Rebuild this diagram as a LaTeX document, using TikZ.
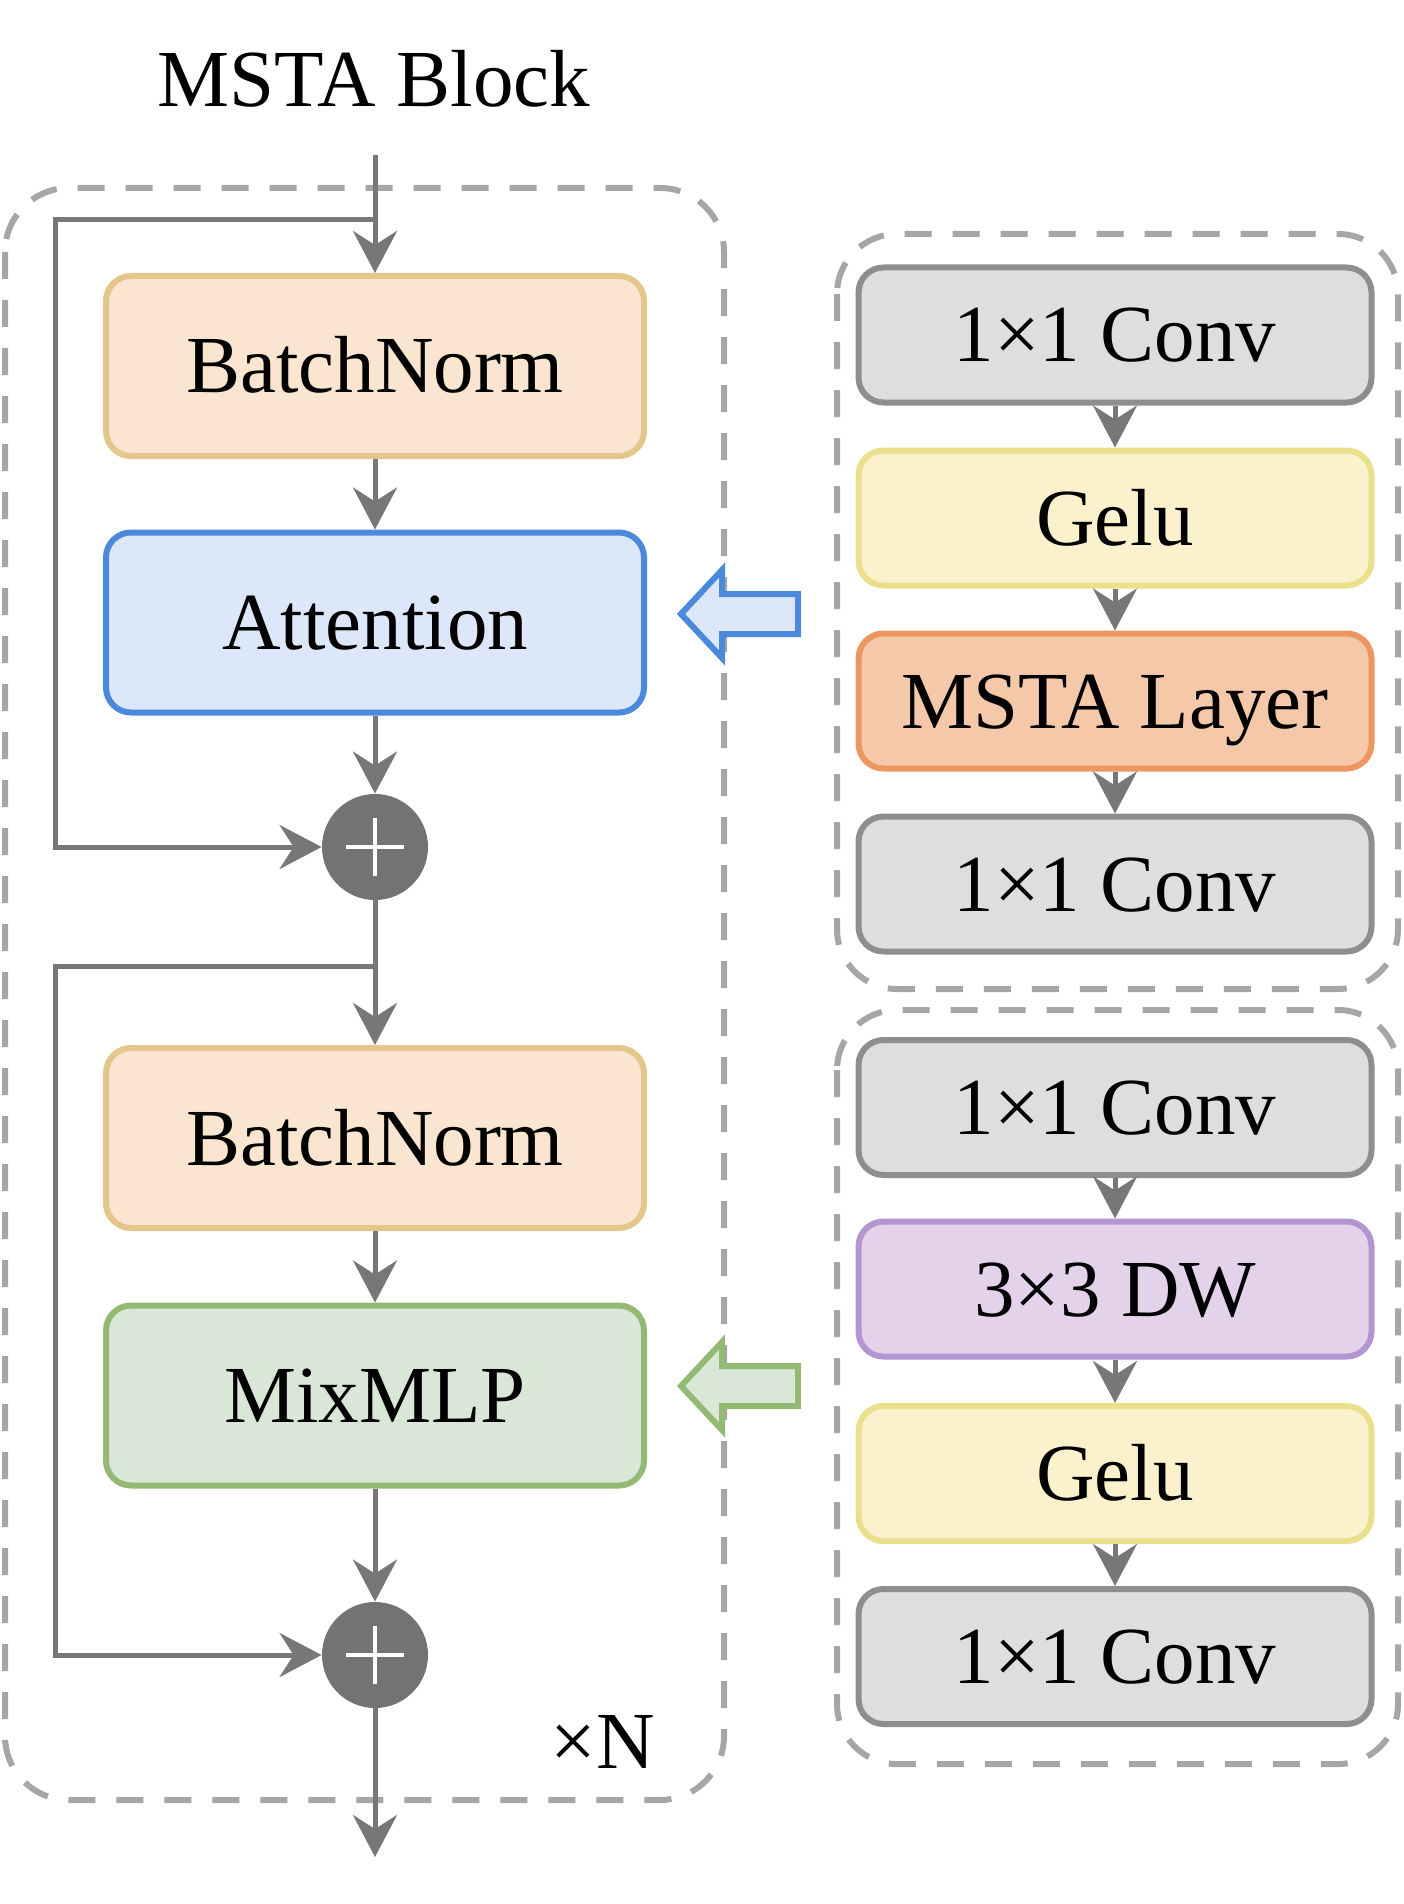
\documentclass[tikz,border=0pt]{standalone}
\usepackage{fontspec}
\setmainfont{Liberation Serif}
\usetikzlibrary{arrows.meta}
\definecolor{conncol}{HTML}{777777}
\definecolor{dashcol}{HTML}{A6A6A6}
\definecolor{plusgray}{HTML}{737373}
\definecolor{bnfill}{HTML}{FAE6D0}
\definecolor{bndraw}{HTML}{E2C68A}
\definecolor{atfill}{HTML}{DCE8FA}
\definecolor{atdraw}{HTML}{4A89DC}
\definecolor{mlpfill}{HTML}{D8E7D6}
\definecolor{mlpdraw}{HTML}{94B975}
\definecolor{cvfill}{HTML}{DEDEDE}
\definecolor{cvdraw}{HTML}{8E8E8E}
\definecolor{gefill}{HTML}{FBF2CD}
\definecolor{gedraw}{HTML}{EAE08C}
\definecolor{msfill}{HTML}{F6C8AA}
\definecolor{msdraw}{HTML}{EC9660}
\definecolor{dwfill}{HTML}{E4D2EA}
\definecolor{dwdraw}{HTML}{B395D0}
\begin{document}
\begin{tikzpicture}[x=0.5pt,y=-0.5pt,
  every node/.style={inner sep=0pt},
  lbl/.style={font=\fontsize{40.5}{48}\selectfont},
  mainbox/.style={lbl, rounded corners=12.5pt, line width=3pt, minimum width=269pt, minimum height=90pt, text height=27pt, text depth=0pt},
  sidebox/.style={mainbox, minimum width=256.5pt, minimum height=67.5pt},
  conn/.style={draw=conncol, line width=2.5pt, -{Stealth[length=21pt,width=22pt,inset=7pt]}},
  dashbox/.style={draw=dashcol, line width=3pt, dash pattern=on 13.5pt off 10.5pt},
  plusnode/.style={circle, fill=plusgray, minimum size=53pt},
  plusbar/.style={draw=white, line width=2pt},
  bigarrow/.style={line width=3pt, line join=miter}
]
\useasboundingbox (0,0) rectangle (1403,1904);

% dashed containers
\draw[dashbox, rounded corners=32pt] (5,188) rectangle (724,1800);
\draw[dashbox, rounded corners=30pt] (837,234) rectangle (1398,989);
\draw[dashbox, rounded corners=30pt] (837,1010) rectangle (1398,1764);

% title
\node[lbl, anchor=base] (title) at (374,107) {MSTA Block};

% main column
\node[mainbox, draw=bndraw, fill=bnfill] (bn1) at (375,366) {BatchNorm};
\node[mainbox, draw=atdraw, fill=atfill] (att) at (375,622.5) {Attention};
\node[plusnode] (p1) at (375,847) {};
\node[mainbox, draw=bndraw, fill=bnfill] (bn2) at (375,1138) {BatchNorm};
\node[mainbox, draw=mlpdraw, fill=mlpfill] (mlp) at (375,1395.5) {MixMLP};
\node[plusnode] (p2) at (375,1655) {};
\node[lbl, anchor=base east] (times) at (655,1768) {×N};

\coordinate (in) at (375,155);
\coordinate (s1) at (375,220);
\coordinate (s2) at (375,966);
\coordinate (out) at (375,1857);

\draw[plusbar] ([xshift=-14.5pt]p1.center) -- ([xshift=14.5pt]p1.center);
\draw[plusbar] ([yshift=-14.5pt]p1.center) -- ([yshift=14.5pt]p1.center);
\draw[plusbar] ([xshift=-14.5pt]p2.center) -- ([xshift=14.5pt]p2.center);
\draw[plusbar] ([yshift=-14.5pt]p2.center) -- ([yshift=14.5pt]p2.center);

\draw[conn] (in) -- (bn1);
\draw[conn] (bn1) -- (att);
\draw[conn] (att) -- (p1);
\draw[conn] (p1) -- (bn2);
\draw[conn] (bn2) -- (mlp);
\draw[conn] (mlp) -- (p2);
\draw[conn] (p2) -- (out);
\draw[conn] (s1) -- (55,220) |- (p1);
\draw[conn] (s2) -- (55,966) |- (p2);

% right column, group 1
\node[sidebox, draw=cvdraw, fill=cvfill] (c1) at (1115,335) {1×1 Conv};
\node[sidebox, draw=gedraw, fill=gefill] (g1) at (1115,518) {Gelu};
\node[sidebox, draw=msdraw, fill=msfill] (ms) at (1115,701) {MSTA Layer};
\node[sidebox, draw=cvdraw, fill=cvfill] (c2) at (1115,884) {1×1 Conv};
\draw[conn] (c1) -- (g1);
\draw[conn] (g1) -- (ms);
\draw[conn] (ms) -- (c2);

% right column, group 2
\node[sidebox, draw=cvdraw, fill=cvfill] (c3) at (1115,1107.5) {1×1 Conv};
\node[sidebox, draw=dwdraw, fill=dwfill] (dw) at (1115,1289) {3×3 DW};
\node[sidebox, draw=gedraw, fill=gefill] (g2) at (1115,1473.5) {Gelu};
\node[sidebox, draw=cvdraw, fill=cvfill] (c4) at (1115,1656.5) {1×1 Conv};
\draw[conn] (c3) -- (dw);
\draw[conn] (dw) -- (g2);
\draw[conn] (g2) -- (c4);

% hollow block arrows
\draw[bigarrow, draw=atdraw, fill=atfill] (681,614) -- (722,570) -- (722,594) -- (798,594) -- (798,634) -- (722,634) -- (722,658) -- cycle;
\draw[bigarrow, draw=mlpdraw, fill=mlpfill] (681,1386) -- (722,1342) -- (722,1366) -- (798,1366) -- (798,1406) -- (722,1406) -- (722,1430) -- cycle;
\end{tikzpicture}
\end{document}
